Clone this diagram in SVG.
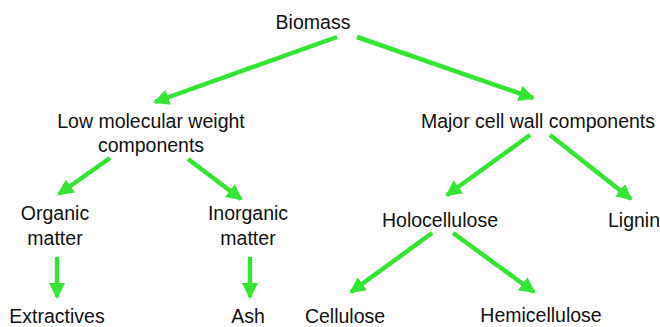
<svg xmlns="http://www.w3.org/2000/svg" width="660" height="327" viewBox="0 0 660 327">
<defs>
<style>
text{font-family:"Liberation Sans",Arial,sans-serif;font-size:19.5px;fill:#111;text-anchor:middle}
.c line{stroke:#36e436;stroke-width:4.5;stroke-linecap:butt}
</style>
<marker id="ah" markerUnits="userSpaceOnUse" markerWidth="20" markerHeight="20" viewBox="0 0 20 20" refX="14" refY="10" orient="auto">
<path d="M0,2 L16,10 L0,18 Z" fill="#36e436"/>
</marker>
</defs>
<rect width="660" height="327" fill="#fff"/>
<g class="c" id="connectors">
<line x1="337" y1="37" x2="155" y2="102" marker-end="url(#ah)"/>
<line x1="357" y1="37" x2="533" y2="98" marker-end="url(#ah)"/>
<line x1="110" y1="158" x2="59" y2="194" marker-end="url(#ah)"/>
<line x1="188" y1="159" x2="241" y2="199" marker-end="url(#ah)"/>
<line x1="57" y1="257" x2="57" y2="297" marker-end="url(#ah)"/>
<line x1="250" y1="257" x2="250" y2="297" marker-end="url(#ah)"/>
<line x1="530" y1="135" x2="447" y2="195" marker-end="url(#ah)"/>
<line x1="550" y1="135" x2="631" y2="199" marker-end="url(#ah)"/>
<line x1="432" y1="233" x2="351" y2="292" marker-end="url(#ah)"/>
<line x1="453" y1="233" x2="534" y2="292" marker-end="url(#ah)"/>
</g>
<g id="biomass"><text x="313" y="29">Biomass</text></g>
<g id="lmw"><text x="151" y="128">Low molecular weight</text><text x="151" y="152">components</text></g>
<g id="mcw"><text x="538" y="128">Major cell wall components</text></g>
<g id="organic"><text x="55" y="220">Organic</text><text x="55" y="245">matter</text></g>
<g id="inorganic"><text x="248" y="220">Inorganic</text><text x="248" y="245">matter</text></g>
<g id="holo"><text x="440" y="227">Holocellulose</text></g>
<g id="lignin"><text x="634" y="227">Lignin</text></g>
<g id="extractives"><text x="57" y="323">Extractives</text></g>
<g id="ash"><text x="248" y="323">Ash</text></g>
<g id="cellulose"><text x="345" y="323">Cellulose</text></g>
<g id="hemi"><text x="541" y="322">Hemicellulose</text></g>
</svg>
